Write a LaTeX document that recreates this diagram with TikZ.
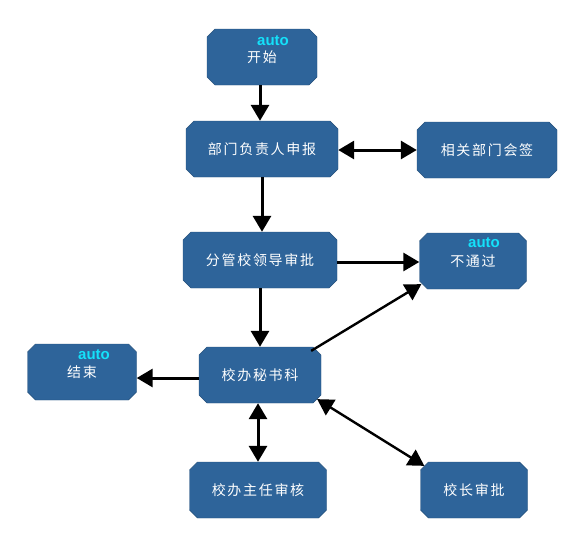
\documentclass[tikz,border=0pt]{standalone}
\usepackage{fontspec}
\usepackage{xcolor}
\usetikzlibrary{arrows.meta,shapes.misc}
\newfontfamily\cjk[LetterSpace=12]{Noto Sans CJK SC}
\newfontfamily\autofont{Liberation Sans}
\definecolor{boxblue}{RGB}{46,100,154}
\definecolor{autocyan}{RGB}{20,225,250}
\begin{document}
\begin{tikzpicture}[x=1pt, y=-1pt,
    box/.style={chamfered rectangle, chamfered rectangle xsep=4pt, chamfered rectangle ysep=4pt,
        fill=boxblue, draw=boxblue!80!black, line width=0.4pt, text=white, inner sep=0pt,
        minimum height=56pt, font=\cjk\fontsize{14}{16}\selectfont},
    autotag/.style={text=autocyan, inner sep=0pt, font=\autofont\bfseries\fontsize{15}{16}\selectfont},
    flow/.style={-{Triangle[length=16pt,width=18pt]}, line width=3pt},
    flowboth/.style={{Triangle[length=16pt,width=18pt]}-{Triangle[length=16pt,width=18pt]}, line width=3pt},
    ]
    \useasboundingbox (0,0) rectangle (583,546);
    % boxes
    \node[box, minimum width=110pt] (start) at (262,57) {开始};
    \node[box, minimum width=152pt] (report) at (262,149) {部门负责人申报};
    \node[box, minimum width=140pt] (cosign) at (487,150) {相关部门会签};
    \node[box, minimum width=154pt] (leader) at (260,260) {分管校领导审批};
    \node[box, minimum width=107pt] (reject) at (473,261) {不通过};
    \node[box, minimum width=109pt] (finish) at (82,372) {结束};
    \node[box, minimum width=122pt] (office) at (260,375) {校办秘书科};
    \node[box, minimum width=137pt] (director) at (258,490) {校办主任审核};
    \node[box, minimum width=107pt] (president) at (474,490) {校长审批};
    % auto tags
    \node[autotag] (startauto) at (273,41) {auto};
    \node[autotag] (rejectauto) at (484,243) {auto};
    \node[autotag] (finishauto) at (94,355) {auto};
    % connectors
    \draw[flow] ([xshift=-2pt]start.south) -- ([xshift=-2pt]start.south |- report.north);
    \draw[flowboth] ([yshift=-1pt]report.east) -- ([yshift=-1pt]report.east -| cosign.west);
    \draw[flow] (report.south) -- (report.south |- leader.north);
    \draw[flow] ([yshift=-2pt]leader.east) -- ([yshift=-2pt]leader.east -| reject.west);
    \draw[flow] (leader.south) -- (leader.south |- office.north);
    \draw[flow, line width=2.4pt] ([xshift=-6pt]office.north east) -- ([xshift=-2pt,yshift=1pt]reject.south west);
    \draw[flow] ([yshift=-3pt]office.west) -- ([yshift=-3pt]office.west -| finish.east);
    \draw[flowboth] ([xshift=-2pt]office.south) -- ([xshift=-2pt]office.south |- director.north);
    \draw[flowboth, line width=2.4pt] (office.south east) -- (president.north west);
\end{tikzpicture}
\end{document}
